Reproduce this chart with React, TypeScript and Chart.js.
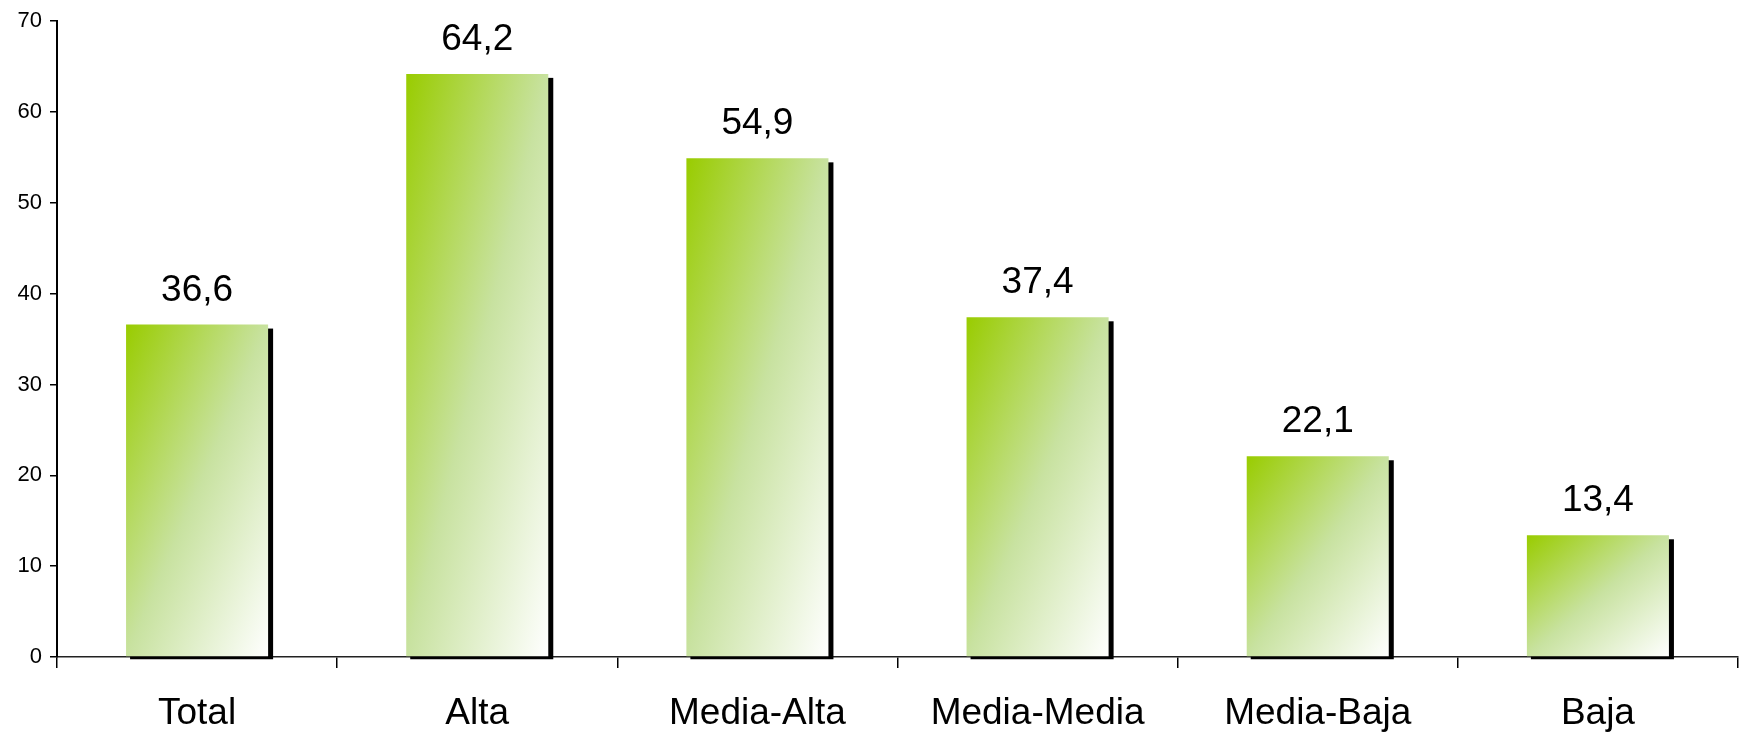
import React, { useEffect, useRef } from "react";
import { Chart, registerables } from "chart.js";

Chart.register(...registerables);

const categories = ["Total", "Alta", "Media-Alta", "Media-Media", "Media-Baja", "Baja"];
const values = [36.6, 64.2, 54.9, 37.4, 22.1, 13.4];
const valueLabels = ["36,6", "64,2", "54,9", "37,4", "22,1", "13,4"];
const yTicks = [0, 10, 20, 30, 40, 50, 60, 70];

const FONT = "'Liberation Sans', Arial, sans-serif";
const BAR_PCT = 0.507;

function barGradient(ctx: any) {
  const chart = ctx.chart;
  const area = chart.chartArea;
  if (!area || ctx.type !== "data") return "#99cc00";
  const xs = chart.scales.x;
  const ys = chart.scales.y;
  const i = ctx.dataIndex;
  const cw = area.width / categories.length;
  const w = cw * BAR_PCT;
  const cx = xs.getPixelForValue(i);
  const L = cx - w / 2;
  const T = ys.getPixelForValue(values[i]);
  const B = ys.getPixelForValue(0);
  const h = Math.max(1, B - T);
  const d = h * h + w * w;
  const x1 = L + (2 * w * h * h) / d;
  const y1 = T + (2 * w * w * h) / d;
  const g = chart.ctx.createLinearGradient(L, T, x1, y1);
  g.addColorStop(0, "rgb(153,204,0)");
  g.addColorStop(0.5, "rgb(200,226,160)");
  g.addColorStop(1, "rgb(255,255,255)");
  return g;
}

const shadowPlugin = {
  id: "barShadow",
  beforeDatasetsDraw(chart: any) {
    const meta = chart.getDatasetMeta(0);
    const c = chart.ctx;
    c.save();
    c.fillStyle = "#000";
    meta.data.forEach((bar: any) => {
      const p = bar.getProps(["x", "y", "base", "width"], true);
      const left = p.x - p.width / 2;
      const right = p.x + p.width / 2;
      c.fillRect(left + 4, p.y + 4, right - left + 1, p.base - p.y - 1);
    });
    c.restore();
  },
};

const labelPlugin = {
  id: "valueLabels",
  afterDatasetsDraw(chart: any) {
    const meta = chart.getDatasetMeta(0);
    const c = chart.ctx;
    c.save();
    c.fillStyle = "#000";
    c.font = `37px ${FONT}`;
    c.textAlign = "center";
    c.textBaseline = "alphabetic";
    meta.data.forEach((bar: any, i: number) => {
      const p = bar.getProps(["x", "y"], true);
      c.fillText(valueLabels[i], p.x, p.y - 24);
    });
    c.restore();
  },
};

export default function App() {
  const ref = useRef<HTMLCanvasElement>(null);
  useEffect(() => {
    if (!ref.current) return;
    const chart = new Chart(ref.current, {
      type: "bar",
      data: {
        labels: categories,
        datasets: [
          {
            data: values,
            backgroundColor: barGradient,
            borderWidth: 0,
            categoryPercentage: 1,
            barPercentage: BAR_PCT,
          },
        ],
      },
      options: {
        responsive: false,
        animation: false,
        events: [],
        layout: { padding: { top: 20, right: 6, left: 0, bottom: 0 } },
        plugins: { legend: { display: false }, tooltip: { enabled: false } },
        scales: {
          x: {
            afterFit: (s: any) => {
              s.height = 76;
            },
            grid: {
              offset: true,
              drawOnChartArea: false,
              drawTicks: true,
              tickLength: 11,
              color: "#000",
              lineWidth: 1.5,
            },
            border: { display: true, color: "#222", width: 1.5 },
            ticks: {
              color: "#000",
              font: { family: FONT, size: 37 },
              padding: 24,
              maxRotation: 0,
              autoSkip: false,
            },
          },
          y: {
            min: 0,
            max: 70,
            afterFit: (s: any) => {
              s.width = 57;
            },
            afterBuildTicks: (s: any) => {
              s.ticks = yTicks.map((v) => ({ value: v }));
            },
            grid: {
              drawOnChartArea: false,
              drawTicks: true,
              tickLength: 7,
              color: "#000",
              lineWidth: 1.5,
            },
            border: { display: true, color: "#000", width: 2 },
            ticks: {
              color: "#000",
              font: { family: FONT, size: 22 },
              padding: 8,
            },
          },
        },
      },
      plugins: [shadowPlugin, labelPlugin],
    });
    return () => chart.destroy();
  }, []);
  return (
    <div style={{ position: "fixed", left: 0, top: 0, width: 1744, height: 733, background: "#fff" }}>
      <canvas ref={ref} width={1744} height={733} style={{ width: 1744, height: 733 }} />
    </div>
  );
}
